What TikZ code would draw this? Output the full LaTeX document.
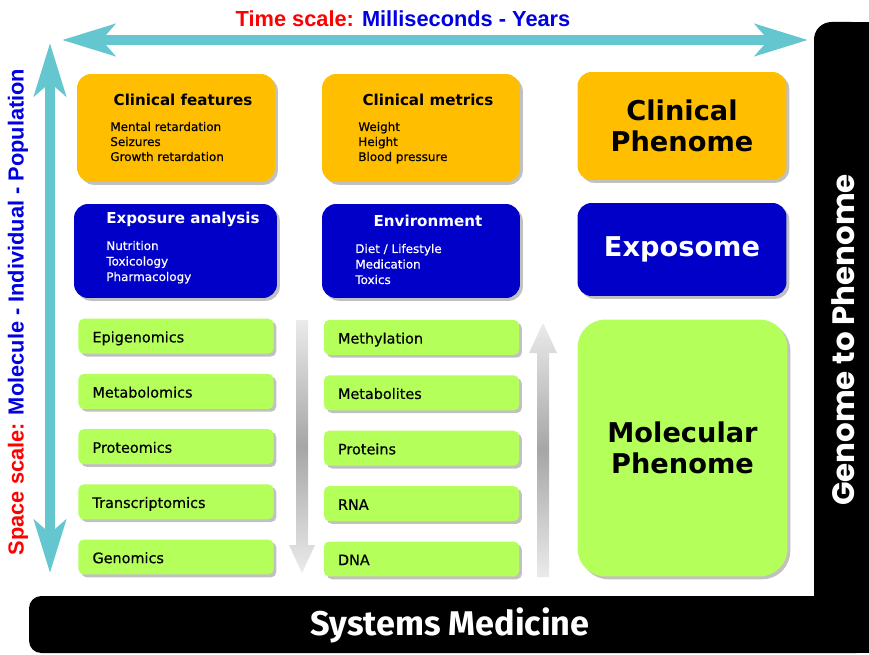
\documentclass[tikz,border=0pt]{standalone}
\usepackage{fontspec}
\setmainfont{DejaVu Sans}
\newfontfamily\itemfont[FakeBold=0.5]{DejaVu Sans}
\newfontfamily\scalefont{Liberation Sans}
\newfontfamily\barfont{Poppins}
\newfontfamily\medfont{Fira Sans}
\usetikzlibrary{arrows.meta, shadows, positioning}

\definecolor{clinorange}{RGB}{255,190,0}
\definecolor{expblue}{RGB}{0,0,200}
\definecolor{molgreen}{RGB}{180,255,90}
\definecolor{scaleteal}{RGB}{100,198,206}
\definecolor{scaleblue}{RGB}{0,0,225}

\begin{document}
\begin{tikzpicture}[
        x=0.02cm, y=-0.02cm,
        boxshadow/.style={drop shadow={shadow xshift=1.6pt, shadow yshift=-1.6pt, opacity=0.35, fill=black!70}},
        orangebox/.style={fill=clinorange, rounded corners=8pt, minimum width=3.96cm, minimum height=2.16cm, boxshadow},
        bluebox/.style={fill=expblue, rounded corners=8pt, minimum width=3.96cm, minimum height=1.88cm, boxshadow},
        omicsbox/.style={fill=molgreen, rounded corners=3pt, inner xsep=8pt, text width=3.34cm, align=left,
            minimum height=0.7cm, text height=8pt, text depth=1pt, font=\itemfont\fontsize{8.2}{10}\selectfont, boxshadow},
        bigtext/.style={font=\bfseries\fontsize{15.5}{18}\selectfont, align=center},
        cardtitle/.style={font=\bfseries\fontsize{8.6}{10}\selectfont, inner sep=0pt, anchor=base},
        carditem/.style={font=\itemfont\fontsize{6.8}{8}\selectfont, inner sep=0pt, anchor=base west},
        scalelabel/.style={font=\scalefont\bfseries\fontsize{12.4}{14}\selectfont},
        scalearrow/.style={draw=scaleteal, line width=5.7pt,
            {Stealth[length=30pt, width=18pt, inset=7.5pt]}-{Stealth[length=30pt, width=18pt, inset=7.5pt]}},
        grayarrow/.style={top color=black!8, bottom color=black!8, middle color=black!35}
    ]
    \useasboundingbox (0,0) rectangle (869,655);

    % Black frame bars
    \fill[rounded corners=10pt] (814,22) rectangle (869,620);
    \fill (840,22) rectangle (869,620);
    \fill[rounded corners=7pt] (29,596) rectangle (869,653);
    \fill (800,596) rectangle (869,653);
    \node[font=\barfont\bfseries\fontsize{17.6}{20}\selectfont, text=white, rotate=90] (g2p) at (843,340) {Genome to Phenome};
    \node[font=\medfont\bfseries\fontsize{19.5}{22}\selectfont, text=white] (sysmed) at (450,625) {Systems Medicine};

    % Scale arrows
    \coordinate (tleft) at (62,40);
    \coordinate (tright) at (808,40);
    \coordinate (stop) at (50,43);
    \coordinate (sbot) at (50,573);
    \draw[scalearrow] (tleft) -- (tright);
    \draw[scalearrow] (stop) -- (sbot);
    \node[scalelabel] (tscale) at (403,19)
        {\textcolor{red}{Time scale:} \textcolor{scaleblue}{Milliseconds - Years}};
    \node[scalelabel, rotate=90] (sscale) at (18,312)
        {\textcolor{red}{Space scale:} \textcolor{scaleblue}{Molecule - Individual - Population}};

    % Clinical row
    \node[orangebox] (cfeat) at (176,128) {};
    \node[orangebox] (cmet) at (421,128) {};
    \node[orangebox, minimum width=4.18cm, bigtext] (cphen) at (682,126) {Clinical\\Phenome};
    \node[cardtitle] (cfeattitle) at (183,105.5) {Clinical features};
    \node[cardtitle] (cmettitle) at (428,105.5) {Clinical metrics};
    \foreach \txt [count=\i] in {Mental retardation, Seizures, Growth retardation}
        \node[carditem] (cf\i) at (110,116+15*\i) {\txt};
    \foreach \txt [count=\i] in {Weight, Height, Blood pressure}
        \node[carditem] (cm\i) at (358,116+15*\i) {\txt};

    % Exposure row
    \node[bluebox, minimum width=4.06cm] (expo) at (175.5,251) {};
    \node[bluebox] (env) at (421,251) {};
    \node[bluebox, minimum width=4.18cm, minimum height=1.86cm, bigtext, text=white] (exposome) at (682,249.5) {Exposome};
    \node[cardtitle, text=white] (expotitle) at (183,224) {Exposure analysis};
    \node[cardtitle, text=white] (envtitle) at (428,227) {Environment};
    \foreach \txt [count=\i] in {Nutrition, Toxicology, Pharmacology}
        \node[carditem, text=white] (ea\i) at (106,234.5+15.5*\i) {\txt};
    \foreach \txt [count=\i] in {Diet / Lifestyle, Medication, Toxics}
        \node[carditem, text=white] (en\i) at (355,237.5+15.5*\i) {\txt};

    % Molecular rows
    \foreach \txt [count=\i] in {Epigenomics, Metabolomics, Proteomics, Transcriptomics, Genomics}
        \node[omicsbox] (omic\i) at (176,281+55.2*\i) {\txt};
    \foreach \txt [count=\i] in {Methylation, Metabolites, Proteins, RNA, DNA}
        \node[omicsbox] (mol\i) at (421.5,282+55.4*\i) {\txt};
    \node[fill=molgreen, rounded corners=16pt, minimum width=4.2cm, minimum height=5.14cm, boxshadow, bigtext] (molphen)
        at (682.5,448) {Molecular\\Phenome};

    % Gray flow arrows
    \shade[grayarrow] (296,320) -- (308,320) -- (308,545) -- (315,545) -- (302,573) -- (289,545) -- (296,545) -- cycle;
    \shade[grayarrow] (537,577) -- (549,577) -- (549,353) -- (557,353) -- (543,323) -- (529,353) -- (537,353) -- cycle;

\end{tikzpicture}
\end{document}
